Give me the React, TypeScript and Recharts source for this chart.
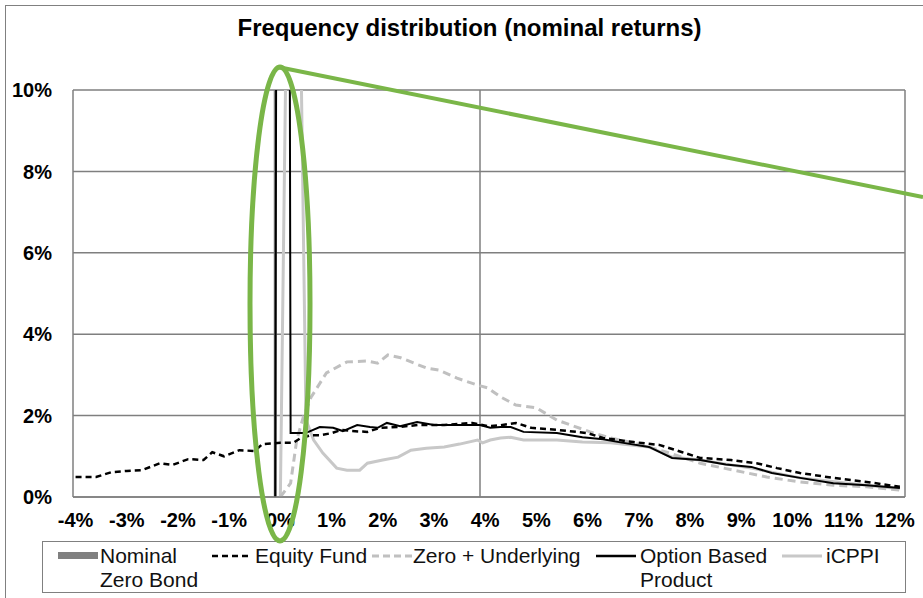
import React from "react";
import {
  LineChart,
  Line,
  XAxis,
  YAxis,
  CartesianGrid,
} from "recharts";

// ── Data (x = return %, y = frequency %) ──

const xTicks = [-4, -3, -2, -1, 0, 1, 2, 3, 4, 5, 6, 7, 8, 9, 10, 11, 12];
const yTicks = [0, 2, 4, 6, 8, 10];

const zeroBondX = [-0.1, -0.1];
const zeroBondY = [0, 100];

const equityX = [
  -4.0, -3.6, -3.3, -3.0, -2.7, -2.35, -2.1, -1.8, -1.5, -1.33, -1.1, -0.8,
  -0.5, -0.35, 0, 0.25, 0.4, 0.6, 0.8, 1.0, 1.2, 1.4, 1.7, 1.95, 2.3, 2.7,
  3.2, 3.75, 4.05, 4.3, 4.6, 4.9, 5.4, 6.0, 6.3, 6.9, 7.4, 7.85, 8.2, 8.8,
  9.3, 9.7, 10.15, 10.8, 11.45, 12.1,
];
const equityY = [
  0.49, 0.49, 0.61, 0.64, 0.66, 0.83, 0.79, 0.93, 0.91, 1.1, 1.0, 1.15,
  1.13, 1.3, 1.33, 1.33, 1.45, 1.52, 1.52, 1.57, 1.65, 1.62, 1.6, 1.7, 1.72,
  1.77, 1.77, 1.82, 1.74, 1.76, 1.82, 1.7, 1.65, 1.57, 1.45, 1.35, 1.28, 1.1,
  0.96, 0.91, 0.83, 0.71, 0.59, 0.47, 0.37, 0.25,
];

const zeroUnderX = [
  0.0, 0.2, 0.32, 0.45, 0.6, 0.9, 1.3, 1.7, 1.9, 2.1, 2.35, 2.85, 3.1, 3.45,
  3.85, 4.05, 4.3, 4.6, 5.0, 5.4, 6.05, 6.45, 6.9, 7.55, 8.2, 8.85, 9.5,
  10.15, 10.8, 11.45, 12.1,
];
const zeroUnderY = [
  0, 0.34, 1.4, 1.97, 2.45, 3.05, 3.32, 3.34, 3.29, 3.49, 3.42, 3.17, 3.12,
  2.92, 2.75, 2.68, 2.46, 2.26, 2.19, 1.89, 1.6, 1.45, 1.33, 1.1, 0.83, 0.66,
  0.49, 0.37, 0.29, 0.25, 0.17,
];

const optionX = [
  -0.1, 0, 0.1, 0.2, 0.45, 0.55, 0.77, 1.03, 1.22, 1.5, 1.75, 1.9, 2.08,
  2.34, 2.67, 3.0, 3.5, 3.9, 4.1, 4.3, 4.5, 4.75, 5.4, 5.9, 6.3, 6.7, 7.2,
  7.65, 8.2, 8.7, 9.2, 9.6, 10.15, 10.8, 11.45, 12.1,
];
const optionY = [
  0, 60, 60, 1.57, 1.57, 1.6, 1.72, 1.7, 1.62, 1.77, 1.72, 1.7, 1.82, 1.74,
  1.84, 1.77, 1.77, 1.77, 1.7, 1.72, 1.72, 1.6, 1.57, 1.47, 1.42, 1.33, 1.23,
  0.96, 0.91, 0.8, 0.74, 0.59, 0.47, 0.34, 0.29, 0.22,
];

const icppiX = [
  0.0, 0.25, 0.5, 0.65, 0.83, 1.1, 1.3, 1.55, 1.7, 2.0, 2.3, 2.55, 2.85, 3.2,
  3.5, 3.85, 3.95, 4.1, 4.3, 4.5, 4.75, 5.4, 5.9, 6.45, 7.2, 7.65, 8.2, 9.2,
  10.15, 11.45, 12.1,
];
const icppiY = [
  0, 25, 1.9, 1.4, 1.08, 0.71, 0.66, 0.66, 0.83, 0.91, 0.98, 1.15, 1.2, 1.23,
  1.3, 1.4, 1.33, 1.4, 1.45, 1.47, 1.4, 1.4, 1.35, 1.33, 1.23, 0.98, 0.91,
  0.71, 0.47, 0.29, 0.2,
];

const toPoints = (xs: number[], ys: number[]) =>
  xs.map((x, i) => ({ x, y: ys[i] }));

const FONT = "'Liberation Sans', Arial, sans-serif";
const GRID = "#7f7f7f";
const GREEN = "#7ab648";

// ── Legend swatch ──

function Swatch({
  color,
  width,
  dash,
  thick,
}: {
  color: string;
  width: number;
  dash?: string;
  thick?: boolean;
}) {
  return (
    <svg width={40} height={10} style={{ display: "block" }}>
      {thick ? (
        <rect x={0} y={1} width={40} height={7} fill={color} />
      ) : (
        <line
          x1={0}
          y1={5}
          x2={40}
          y2={5}
          stroke={color}
          strokeWidth={width}
          strokeDasharray={dash}
        />
      )}
    </svg>
  );
}

const legendItems = [
  { label: ["Nominal", "Zero Bond"], swatch: 58, text: 100, color: "#808080", width: 7, thick: true },
  { label: ["Equity Fund"], swatch: 212, text: 255, color: "#000000", width: 2.5, dash: "6 4" },
  { label: ["Zero + Underlying"], swatch: 372, text: 413, color: "#c0c0c0", width: 3, dash: "7 4" },
  { label: ["Option Based", "Product"], swatch: 596, text: 640, color: "#000000", width: 2.5 },
  { label: ["iCPPI"], swatch: 782, text: 826, color: "#c8c8c8", width: 3 },
];

const tickStyle = { fontSize: 20, fontWeight: "bold", fill: "#000", fontFamily: FONT };

export default function App() {
  return (
    <div
      style={{
        position: "absolute",
        left: 0,
        top: 0,
        width: 923,
        height: 598,
        overflow: "hidden",
        background: "#fff",
        fontFamily: FONT,
      }}
    >
      {/* outer chart frame */}
      <div
        style={{
          position: "absolute",
          left: 5,
          top: 5,
          width: 960,
          height: 640,
          border: "1.5px solid #808080",
        }}
      />
      <div
        style={{
          position: "absolute",
          left: 0,
          top: 13,
          width: 939,
          textAlign: "center",
          fontSize: 24,
          lineHeight: "30px",
          fontWeight: "bold",
          color: "#000",
        }}
      >
        Frequency distribution (nominal returns)
      </div>

      <div style={{ position: "absolute", left: 0, top: 0 }}>
        <LineChart
          width={923}
          height={540}
          margin={{ top: 90, right: 18, bottom: 0, left: 0 }}
        >
          <CartesianGrid
            stroke={GRID}
            strokeWidth={1.5}
            verticalPoints={[480, 905]}
          />
          <XAxis
            type="number"
            dataKey="x"
            domain={[-4.05, 12.2]}
            ticks={xTicks}
            allowDataOverflow
            tickFormatter={(v: number) => `${v}%`}
            tick={tickStyle}
            tickSize={0}
            tickMargin={16}
            axisLine={{ stroke: GRID, strokeWidth: 1.5 }}
            tickLine={false}
            height={43}
            interval={0}
          />
          <YAxis
            type="number"
            domain={[0, 10]}
            ticks={yTicks}
            allowDataOverflow
            tickFormatter={(v: number) => `${v}%`}
            tick={tickStyle}
            tickSize={0}
            tickMargin={21}
            axisLine={{ stroke: GRID, strokeWidth: 1.5 }}
            tickLine={false}
            width={73}
          />
          <Line
            data={toPoints(zeroBondX, zeroBondY)}
            dataKey="y"
            type="linear"
            stroke="#808080"
            strokeWidth={3}
            dot={false}
            isAnimationActive={false}
          />
          <Line
            data={toPoints(icppiX, icppiY)}
            dataKey="y"
            type="linear"
            stroke="#c8c8c8"
            strokeWidth={3}
            dot={false}
            isAnimationActive={false}
          />
          <Line
            data={toPoints(zeroUnderX, zeroUnderY)}
            dataKey="y"
            type="linear"
            stroke="#c0c0c0"
            strokeWidth={3}
            strokeDasharray="8 5"
            dot={false}
            isAnimationActive={false}
          />
          <Line
            data={toPoints(equityX, equityY)}
            dataKey="y"
            type="linear"
            stroke="#000"
            strokeWidth={2.5}
            strokeDasharray="6 4"
            dot={false}
            isAnimationActive={false}
          />
          <Line
            data={toPoints(optionX, optionY)}
            dataKey="y"
            type="linear"
            stroke="#000"
            strokeWidth={2}
            dot={false}
            isAnimationActive={false}
          />
        </LineChart>
      </div>

      {/* legend */}
      <div
        style={{
          position: "absolute",
          left: 42,
          top: 541,
          width: 862,
          height: 50,
          border: "1px solid #808080",
        }}
      />
      {legendItems.map((item) => (
        <React.Fragment key={item.label.join(" ")}>
          <div style={{ position: "absolute", left: item.swatch, top: 551 }}>
            <Swatch
              color={item.color}
              width={item.width}
              dash={item.dash}
              thick={item.thick}
            />
          </div>
          <div
            style={{
              position: "absolute",
              left: item.text,
              top: 544,
              fontSize: 21,
              lineHeight: "24px",
              color: "#111",
            }}
          >
            {item.label.map((l) => (
              <div key={l}>{l}</div>
            ))}
          </div>
        </React.Fragment>
      ))}

      {/* green annotation */}
      <svg
        width={923}
        height={598}
        style={{ position: "absolute", left: 0, top: 0, pointerEvents: "none" }}
      >
        <ellipse
          cx={280}
          cy={304}
          rx={30}
          ry={237}
          fill="none"
          stroke={GREEN}
          strokeWidth={5}
        />
        <line x1={278} y1={67} x2={923} y2={197} stroke={GREEN} strokeWidth={4} />
      </svg>
    </div>
  );
}
